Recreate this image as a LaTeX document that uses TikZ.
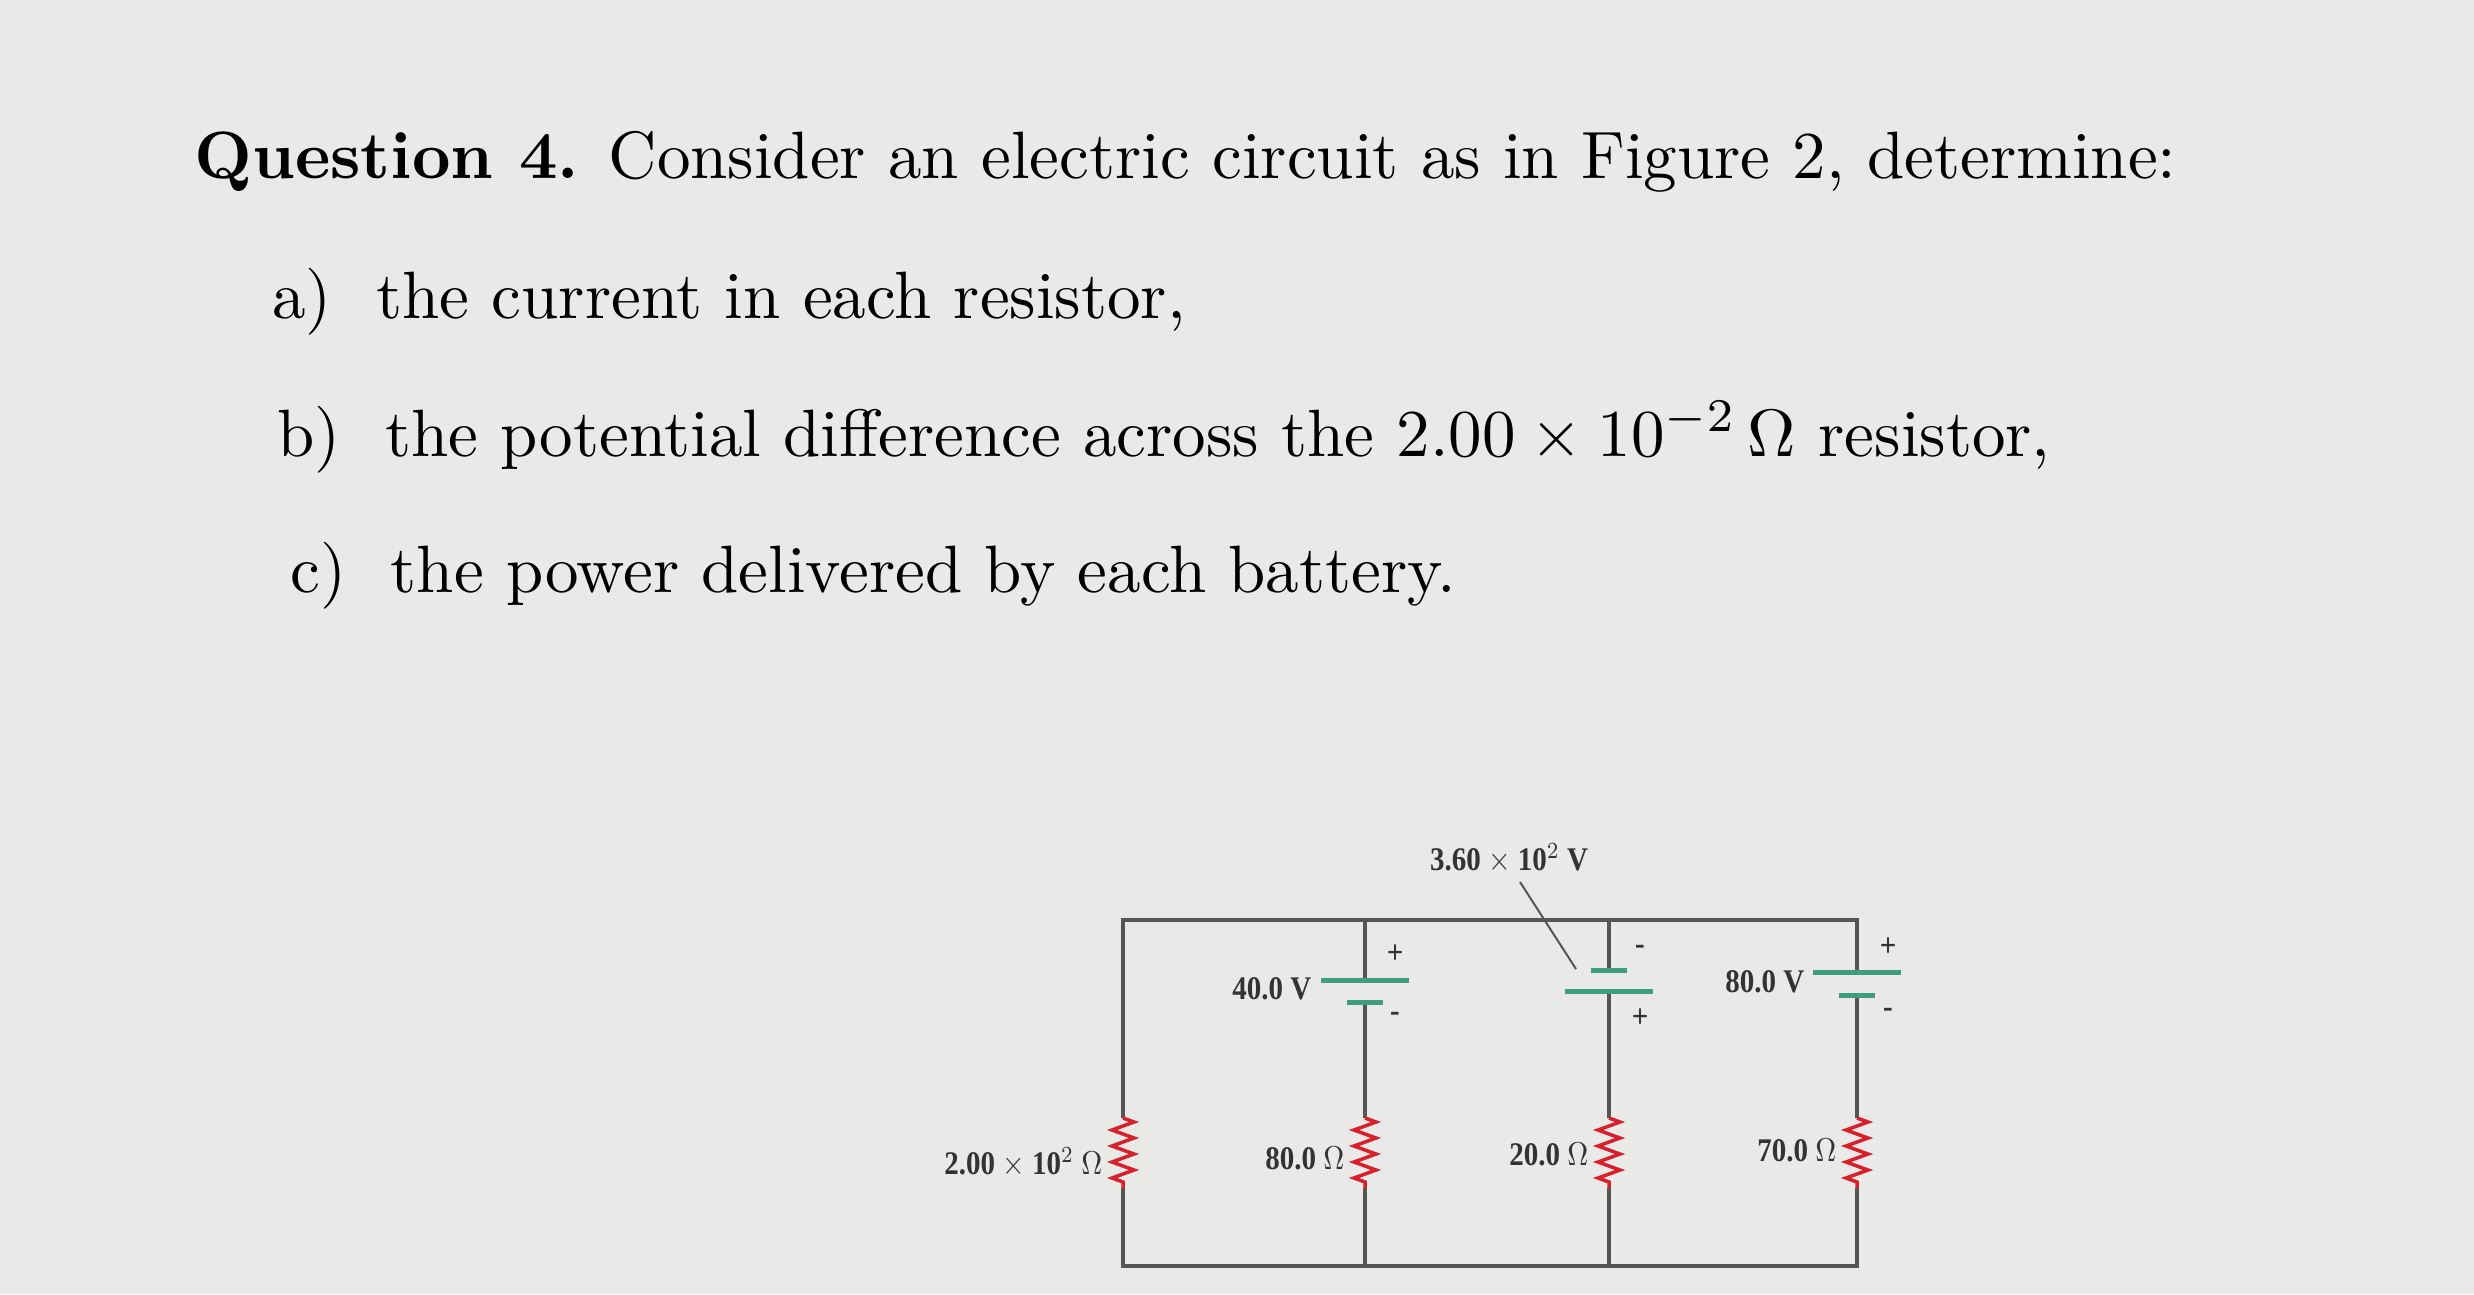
\documentclass[tikz,border=0pt]{standalone}
\usepackage{fontspec}
\newfontfamily\cfont{Liberation Serif}
\usetikzlibrary{decorations.pathmorphing}
\definecolor{bg}{HTML}{E9E9E7}
\definecolor{wire}{HTML}{555555}
\definecolor{batt}{HTML}{3E9E7E}
\definecolor{resc}{HTML}{D8202A}
\begin{document}
\begin{tikzpicture}[x=1pt,y=-1pt,
  wirel/.style={wire,line width=4pt},
  plate/.style={batt,line width=5pt},
  resist/.style={resc,line width=3.5pt,decorate,decoration={zigzag,segment length=16pt,amplitude=11pt}},
  clab/.style={font=\cfont\bfseries,text=black!80,inner sep=0pt,xscale=2.9,yscale=3.3,transform shape},
  qtext/.style={anchor=base west,inner sep=0pt,scale=6.7,transform shape}]
\fill[bg] (0,0) rectangle (2474,1294);
\useasboundingbox (0,0) rectangle (2474,1294);
% text
\node[qtext] (q) at (193,178) {\textbf{Question 4.} Consider an electric circuit as in Figure 2, determine:};
\node[qtext] (a) at (271,318) {a)\ \ the current in each resistor,};
\node[qtext] (b) at (276,456) {b)\ \ the potential difference across the $2.00\times10^{-2}\,\Omega$ resistor,};
\node[qtext] (c) at (289,592) {c)\ \ the power delivered by each battery.};
% wires
\coordinate (TL) at (1123,920); \coordinate (TR) at (1857,920);
\coordinate (BL) at (1123,1266); \coordinate (BR) at (1857,1266);
\draw[wirel] (TL) -- (TR) -- (BR) -- (BL) -- cycle;
\draw[wirel] (1365,920) -- (1365,980);
\draw[wirel] (1365,1002) -- (1365,1266);
\draw[wirel] (1609,920) -- (1609,970);
\draw[wirel] (1609,991) -- (1609,1266);
\fill[bg] (1850,974) rectangle (1864,993);
% batteries
\draw[plate] (1321,980) -- (1409,980);
\draw[plate] (1347,1002) -- (1383,1002);
\draw[plate] (1591,970) -- (1627,970);
\draw[plate] (1565,991) -- (1653,991);
\draw[plate] (1813,972) -- (1901,972);
\draw[plate] (1839,995) -- (1875,995);
% resistors
\fill[bg] (1110,1118) rectangle (1136,1188);
\fill[bg] (1352,1118) rectangle (1378,1188);
\fill[bg] (1596,1118) rectangle (1622,1188);
\fill[bg] (1844,1118) rectangle (1870,1188);
\draw[resist] (1123,1118) -- (1123,1188);
\draw[resist] (1365,1118) -- (1365,1188);
\draw[resist] (1609,1118) -- (1609,1188);
\draw[resist] (1857,1118) -- (1857,1188);
% polarity
\node[clab] (p1) at (1395,954) {+};
\node[clab] (m1) at (1395,1017) {-};
\node[clab] (m3) at (1640,950) {-};
\node[clab] (p3) at (1640,1018) {+};
\node[clab] (p4) at (1888,947) {+};
\node[clab] (m4) at (1888,1013) {-};
% labels
\node[clab,anchor=east] (v1) at (1312,989) {40.0 V};
\node[clab,anchor=east] (v4) at (1805,982) {80.0 V};
\node[clab] (v3) at (1509,858) {3.60 $\times$ 10$^2$ V};
\draw[wire,line width=2pt] (1520,882) -- (1576,969);
\node[clab,anchor=east] (r1) at (1103,1162) {2.00 $\times$ 10$^2$ $\Omega$};
\node[clab,anchor=east] (r2) at (1345,1158) {80.0 $\Omega$};
\node[clab,anchor=east] (r3) at (1589,1154) {20.0 $\Omega$};
\node[clab,anchor=east] (r4) at (1837,1150) {70.0 $\Omega$};
\end{tikzpicture}
\end{document}
